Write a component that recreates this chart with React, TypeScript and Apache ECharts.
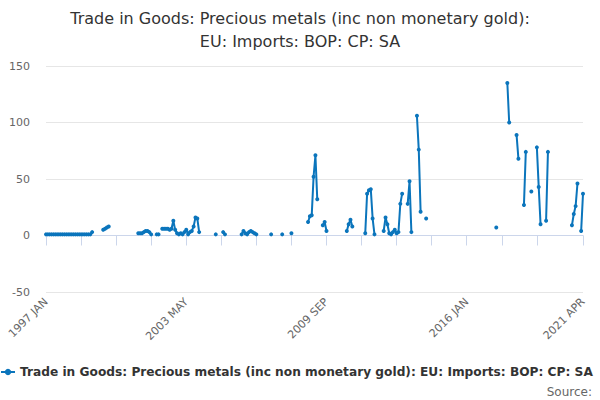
import React, { useEffect, useRef } from "react";
import * as echarts from "echarts";

const n = null;
const months = ["JAN", "FEB", "MAR", "APR", "MAY", "JUN", "JUL", "AUG", "SEP", "OCT", "NOV", "DEC"];
const firstYear = 1997;
const lastYear = 2021;
const lastYearMonths = 4;

// one row per year, JAN..DEC (values in £ million)
const values1997 = [1, 1, 1, 1, 1, 1, 1, 1, 1, 1, 1, 1];
const values1998 = [1, 1, 1, 1, 1, 1, 1, 1, 1, 1, 1, 1];
const values1999 = [1, 3, n, n, n, n, n, 5, 6, 7, 8, n];
const values2000 = [n, n, n, n, n, n, n, n, n, n, n, n];
const values2001 = [n, n, 2, 2, 2, 3, 4, 4, 3, 1, n, n];
const values2002 = [1, 1, n, 6, 6, 6, 6, 5, 6, 13, 5, 2];
const values2003 = [1, 2, 1, 3, 5, 1, 3, 4, 8, 16, 15, 3];
const values2004 = [n, n, n, n, n, n, n, n, 1, n, n, n];
const values2005 = [3, 1, n, n, n, n, n, n, n, n, 1, 4];
const values2006 = [2, 1, 3, 4, 3, 2, 1, n, n, n, n, n];
const values2007 = [n, n, 1, n, n, n, n, n, 1, n, n, n];
const values2008 = [n, 2, n, n, n, n, n, n, n, n, 12, 17];
const values2009 = [18, 52, 71, 32, n, n, 9, 12, 4, n, n, n];
const values2010 = [n, n, n, n, n, n, n, 4, 10, 14, 8, n];
const values2011 = [n, n, n, n, n, 2, 37, 40, 41, 15, 1, n];
const values2012 = [n, n, n, 4, 16, 10, 2, 1, 3, 5, 2, 3];
const values2013 = [28, 37, n, n, 28, 48, 3, n, n, 106, 76, 21];
const values2014 = [n, n, 15, n, n, n, n, n, n, n, n, n];
const values2015 = [n, n, n, n, n, n, n, n, n, n, n, n];
const values2016 = [n, n, n, n, n, n, n, n, n, n, n, n];
const values2017 = [n, n, n, n, 7, n, n, n, n, n, 135, 100];
const values2018 = [n, n, n, 89, 68, n, n, 27, 74, n, n, 39];
const values2019 = [n, n, 78, 43, 10, n, n, 13, 74, n, n, n];
const values2020 = [n, n, n, n, n, n, n, n, n, 9, 19, 26];
const values2021 = [46, n, 4, 37];

const yTicks = { min: -50, max: 150, interval: 50 };
const labelEvery = 76;
const tickEvery = 19;

const seriesName =
  "Trade in Goods: Precious metals (inc non monetary gold): EU: Imports: BOP: CP: SA";
const titleText =
  "Trade in Goods: Precious metals (inc non monetary gold):\nEU: Imports: BOP: CP: SA";

const allValues = [
  values1997, values1998, values1999, values2000, values2001, values2002, values2003,
  values2004, values2005, values2006, values2007, values2008, values2009, values2010,
  values2011, values2012, values2013, values2014, values2015, values2016, values2017,
  values2018, values2019, values2020, values2021,
].flat();

const categories: string[] = [];
for (let y = firstYear; y <= lastYear; y++) {
  const count = y === lastYear ? lastYearMonths : 12;
  for (let m = 0; m < count; m++) categories.push(`${y} ${months[m]}`);
}

export default function App() {
  const ref = useRef<HTMLDivElement>(null);
  useEffect(() => {
    if (!ref.current) return;
    const chart = echarts.init(ref.current, undefined, { renderer: "svg" });
    const lastIdx = categories.length - 1;
    const font = "'DejaVu Sans', sans-serif";
    chart.setOption({
      animation: false,
      textStyle: { fontFamily: font },
      title: {
        text: titleText,
        left: "center",
        top: 2,
        textStyle: {
          fontSize: 16,
          fontWeight: "normal",
          color: "#333333",
          lineHeight: 23,
          fontFamily: font,
        },
      },
      grid: { left: 46, right: 17, top: 66, bottom: 108, containLabel: false },
      xAxis: {
        type: "category",
        data: categories,
        boundaryGap: false,
        axisLine: { lineStyle: { color: "#ccd6eb" } },
        axisTick: {
          length: 10,
          lineStyle: { color: "#ccd6eb" },
          interval: (i: number) => (i % tickEvery === 0 && i <= lastIdx - 20) || i === lastIdx,
        },
        axisLabel: {
          rotate: 45,
          color: "#666666",
          fontSize: 11,
          margin: 8,
          fontFamily: font,
          interval: (i: number) => i % labelEvery === 0 || i === lastIdx,
        },
        splitLine: { show: false },
      },
      yAxis: {
        type: "value",
        min: yTicks.min,
        max: yTicks.max,
        interval: yTicks.interval,
        axisLine: { show: false },
        axisTick: { show: false },
        axisLabel: { color: "#666666", fontSize: 11, margin: 16, fontFamily: font },
        splitLine: { lineStyle: { color: "#e6e6e6" } },
      },
      legend: {
        left: 0,
        top: 366,
        padding: 0,
        itemWidth: 14,
        itemHeight: 8,
        itemGap: 4,
        textStyle: { fontSize: 12.2, fontWeight: "bold", color: "#333333", fontFamily: font },
        data: [seriesName],
      },
      graphic: [
        {
          type: "text",
          right: 8,
          top: 386,
          style: { text: "Source:", fill: "#666666", fontSize: 12, fontFamily: font },
        },
      ],
      series: [
        {
          name: seriesName,
          type: "line",
          data: allValues,
          connectNulls: false,
          showAllSymbol: true,
          symbol: "circle",
          symbolSize: 4,
          lineStyle: { width: 2, color: "#0b75bc" },
          itemStyle: { color: "#0b75bc" },
        },
      ],
    });
    return () => chart.dispose();
  }, []);
  return <div ref={ref} style={{ width: 600, height: 400, position: "absolute", left: 0, top: 0 }} />;
}
